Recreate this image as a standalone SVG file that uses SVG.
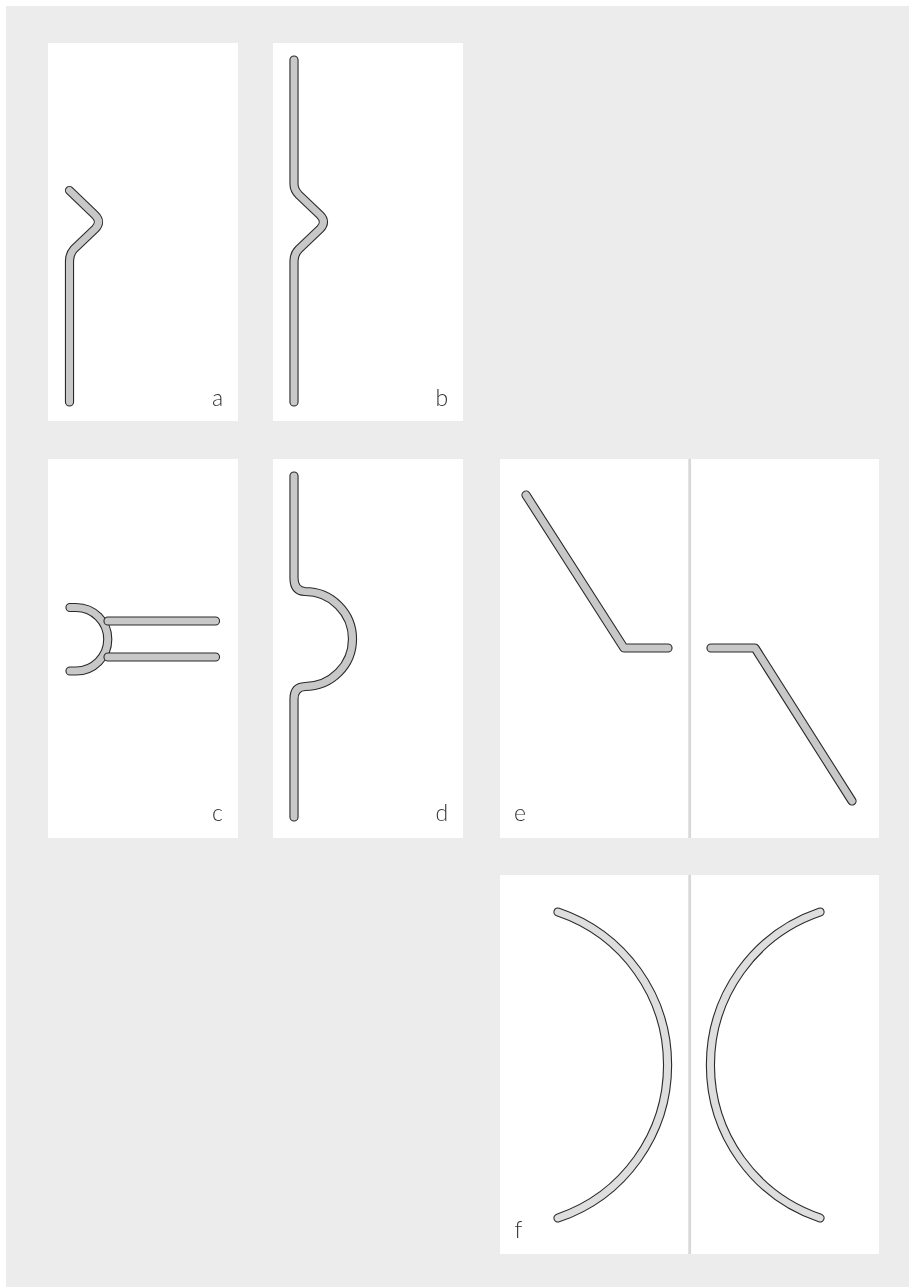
<svg xmlns="http://www.w3.org/2000/svg" width="909" height="1287" viewBox="0 0 909 1287">
<style>
.p{fill:#fff}
.o{fill:none;stroke:#2a2a2a;stroke-width:9.200;stroke-linecap:round;stroke-linejoin:round}
.i{fill:none;stroke:#c8c8c8;stroke-width:7;stroke-linecap:round;stroke-linejoin:round}
.il{fill:none;stroke:#dedede;stroke-width:7;stroke-linecap:round}
.d{stroke:#d8d8d8;stroke-width:2.800;fill:none}
text{font-family:"Lato","Open Sans",sans-serif;font-weight:300;font-size:23px;fill:#333;filter:url(#gray)}
</style>
<defs>
<filter id="gray" x="-20%" y="-20%" width="140%" height="140%"><feOffset dx="0" dy="0"/></filter>
<path id="sa" d="M69.500 190.500L95 215Q102 222 95 229L74 249Q69.500 254 69.500 261V402"/>
<path id="sb" d="M294 60V184Q294 190 299 195L320 215Q327 222 320 229L299 249Q294 254 294 261V402"/>
<path id="sc1" d="M70 607.500H76A31.750 31.750 0 0 1 76 671H70"/>
<path id="sc2" d="M108 621H215.500M108 657H215.500"/>
<path id="sd" d="M294 476V578Q294 591 305 591.500A47.500 47.500 0 0 1 305 686.500Q294 687 294 699V817"/>
<path id="se1" d="M526 495L624 648H668"/>
<path id="se2" d="M711 648H755L852 801"/>
<path id="sf1" d="M558 912A161.600 161.600 0 0 1 558 1218"/>
<path id="sf2" d="M820 912A161.600 161.600 0 0 0 820 1218"/>
</defs>
<rect x="6" y="6" width="903" height="1281" fill="#ececec"/>
<g id="panel-a"><rect class="p" x="48" y="43" width="190" height="378"/><use href="#sa" class="o"/><use href="#sa" class="i"/><text x="212" y="406">a</text></g>
<g id="panel-b"><rect class="p" x="273" y="43" width="190" height="378"/><use href="#sb" class="o"/><use href="#sb" class="i"/><text x="435.500" y="406">b</text></g>
<g id="panel-c"><rect class="p" x="48" y="459" width="190" height="379"/><use href="#sc1" class="o"/><use href="#sc1" class="i"/><use href="#sc2" class="o"/><use href="#sc2" class="i"/><text x="212" y="821">c</text></g>
<g id="panel-d"><rect class="p" x="273" y="459" width="190" height="379"/><use href="#sd" class="o"/><use href="#sd" class="i"/><text x="435.500" y="821">d</text></g>
<g id="panel-e"><rect class="p" x="500" y="459" width="379" height="379"/><line class="d" x1="689.700" y1="459" x2="689.700" y2="838"/><use href="#se1" class="o"/><use href="#se1" class="i"/><use href="#se2" class="o"/><use href="#se2" class="i"/><text x="514" y="821">e</text></g>
<g id="panel-f"><rect class="p" x="500" y="875" width="379" height="379"/><line class="d" x1="689.700" y1="875" x2="689.700" y2="1254"/><use href="#sf1" class="o"/><use href="#sf1" class="il"/><use href="#sf2" class="o"/><use href="#sf2" class="il"/><text x="514.500" y="1238">f</text></g>
</svg>
